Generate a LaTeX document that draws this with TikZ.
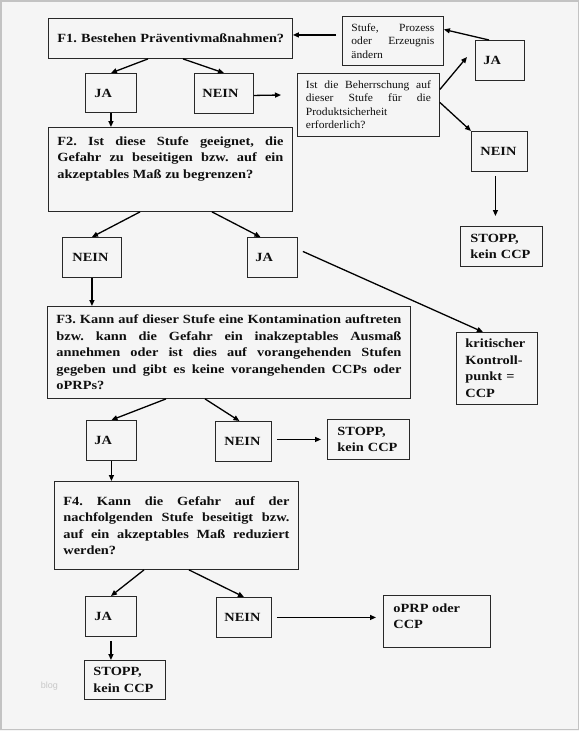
\documentclass[tikz,border=0pt]{standalone}
\usepackage{fontspec}
\setmainfont{Liberation Serif}[FakeStretch=1.15]
\newfontfamily\smallfam{Liberation Serif}[FakeStretch=1.05]
\newfontfamily\blogfam{Liberation Sans}
\usetikzlibrary{arrows.meta}
\definecolor{bgc}{RGB}{245,245,245}
\definecolor{framec}{RGB}{195,195,195}
\definecolor{linec}{RGB}{40,40,40}
\definecolor{txtc}{RGB}{15,15,15}
\definecolor{blogc}{RGB}{200,200,200}
\frenchspacing
\begin{document}
\begin{tikzpicture}[x=1pt,y=-1pt,
  box/.style={draw=linec, line width=0.9pt, anchor=north west, inner ysep=0pt, text=txtc},
  bigtxt/.style={font=\frenchspacing\fontsize{12.5}{16.5}\selectfont\bfseries},
  smalltxt/.style={font=\frenchspacing\smallfam\fontsize{11}{13.5}\selectfont},
  arr/.style={line width=1.3pt, draw=black, -{Triangle[length=6pt,width=5pt]}},
]
\useasboundingbox (0,0) rectangle (579,731);
\fill[bgc] (0,0) rectangle (579,731);
\draw[framec, line width=1.5pt] (0.75,0.75) rectangle (578.25,729.5);

% boxes
\node[box, bigtxt, minimum width=244pt, minimum height=40pt, text width=226pt, inner xsep=9pt, align=left] (f1) at (48,18) {\mbox{F1. Bestehen Präventivmaßnahmen?}};
\node[box, smalltxt, minimum width=101pt, minimum height=49pt, text width=83pt, inner xsep=9pt, align=justify] (change) at (342,16) {Stufe, Prozess\linebreak oder Erzeugnis\linebreak ändern};
\node[box, bigtxt, minimum width=51pt, minimum height=39pt, text width=33pt, inner xsep=9pt, align=left] (ja1) at (85,73) {JA};
\node[box, bigtxt, minimum width=59pt, minimum height=40pt, text width=43pt, inner xsep=8pt, align=left] (nein1) at (194,73) {NEIN};
\node[box, smalltxt, minimum width=142pt, minimum height=63pt, text width=125pt, inner xsep=8.5pt, align=justify] (q) at (297,73) {Ist die Beherrschung auf\linebreak dieser Stufe für die\linebreak Produktsicherheit\\ erforderlich?};
\node[box, bigtxt, minimum width=49pt, minimum height=40pt, text width=33pt, inner xsep=8pt, align=left] (jaR) at (475,40) {JA};
\node[box, bigtxt, minimum width=56pt, minimum height=40pt, text width=38pt, inner xsep=9pt, align=left] (neinR) at (471,131) {NEIN};
\node[box, bigtxt, minimum width=82pt, minimum height=40pt, text width=62pt, inner xsep=10pt, align=left] (stopR) at (460,226) {STOPP,\\ kein CCP};
\node[box, bigtxt, minimum width=244pt, minimum height=84pt, inner xsep=9pt, inner ysep=9pt] (f2) at (48,127) {\parbox[c][66pt][t]{226pt}{F2. Ist diese Stufe geeignet, die\linebreak Gefahr zu beseitigen bzw. auf ein\linebreak akzeptables Maß zu begrenzen?}};
\node[box, bigtxt, minimum width=59pt, minimum height=40pt, text width=39pt, inner xsep=10pt, align=left] (nein2) at (62,237) {NEIN};
\node[box, bigtxt, minimum width=50pt, minimum height=40pt, text width=34pt, inner xsep=8pt, align=left] (ja2) at (247,237) {JA};
\node[box, bigtxt, minimum width=363pt, minimum height=92pt, text width=345pt, inner xsep=9pt, align=justify] (f3) at (47,306) {F3. Kann auf dieser Stufe eine Kontamination auftreten\linebreak bzw. kann die Gefahr ein inakzeptables Ausmaß\linebreak annehmen oder ist dies auf vorangehenden Stufen\linebreak gegeben und gibt es keine vorangehenden CCPs oder\linebreak oPRPs?};
\node[box, bigtxt, minimum width=81pt, minimum height=72pt, text width=63pt, inner xsep=9pt, align=left] (krit) at (456,332) {kritischer\\ Kontroll-\\ punkt =\\ CCP};
\node[box, bigtxt, minimum width=50pt, minimum height=40pt, text width=34pt, inner xsep=8pt, align=left] (ja3) at (86,420) {JA};
\node[box, bigtxt, minimum width=56pt, minimum height=40pt, text width=38pt, inner xsep=9pt, align=left] (nein3) at (215,421) {NEIN};
\node[box, bigtxt, minimum width=82pt, minimum height=40pt, text width=62pt, inner xsep=10pt, align=left] (stop3) at (327,419) {STOPP,\\ kein CCP};
\node[box, bigtxt, minimum width=244pt, minimum height=88pt, text width=226pt, inner xsep=9pt, align=justify] (f4) at (54,481) {F4. Kann die Gefahr auf der\linebreak nachfolgenden Stufe beseitigt bzw.\linebreak auf ein akzeptables Maß reduziert\linebreak werden?};
\node[box, bigtxt, minimum width=51pt, minimum height=40pt, text width=33pt, inner xsep=9pt, align=left] (ja4) at (85,596) {JA};
\node[box, bigtxt, minimum width=55pt, minimum height=40pt, text width=39pt, inner xsep=8pt, align=left] (nein4) at (216,597) {NEIN};
\node[box, bigtxt, minimum width=107pt, minimum height=52pt, inner xsep=10pt, inner ysep=8pt] (oprp) at (383,595) {\parbox[c][36pt][t]{87pt}{oPRP oder\\ CCP}};
\node[box, bigtxt, minimum width=81pt, minimum height=39pt, text width=63pt, inner xsep=9pt, align=left] (stop4) at (84,660) {STOPP,\\ kein CCP};
\node[text=blogc, font=\blogfam\fontsize{9}{10}\selectfont] (blog) at (49.5,686) {blog};

% free ends
\coordinate (n1e) at (281,95);
\coordinate (qja) at (467,57);

% connectors
\draw[arr] ([xshift=-6pt,yshift=6pt]change.west) -- ([yshift=3.5pt]f1.east);
\draw[arr] ([xshift=14pt]jaR.north west) -- ([yshift=11.5pt]change.east);
\draw[arr] ([xshift=100pt]f1.south west) -- (ja1.north);
\draw[arr] ([xshift=135pt]f1.south west) -- (nein1.north);
\draw[arr] ([yshift=-2pt]nein1.east) -- (n1e);
\draw[arr] (ja1.south) -- (ja1.south |- f2.north);
\draw[arr] ([yshift=15.5pt]q.east) -- (qja);
\draw[arr] ([yshift=2.5pt]q.east) -- (neinR.north west);
\draw[arr] ([xshift=-4pt,yshift=-4pt]neinR.south) -- ([xshift=-6pt,yshift=10pt]stopR.north);
\draw[arr] ([xshift=92pt]f2.south west) -- (nein2.north);
\draw[arr] ([xshift=164pt]f2.south west) -- ([xshift=-12pt]ja2.north);
\draw[arr] (nein2.south) -- (nein2.south |- f3.north);
\draw[arr] ([xshift=5pt,yshift=6pt]ja2.east) -- ([xshift=-14pt]krit.north);
\draw[arr] ([xshift=119pt]f3.south west) -- (ja3.north);
\draw[arr] ([xshift=158pt]f3.south west) -- ([xshift=-4pt]nein3.north);
\draw[arr] ([xshift=5pt,yshift=2pt]nein3.east) -- ([xshift=-6pt]stop3.west);
\draw[arr] (ja3.south) -- (ja3.south |- f4.north);
\draw[arr] ([xshift=90pt]f4.south west) -- (ja4.north);
\draw[arr] ([xshift=135pt]f4.south west) -- (nein4.north);
\draw[arr] ([xshift=5pt]nein4.east) -- ([xshift=-7pt,yshift=4pt]oprp.west);
\draw[arr] ([yshift=-4pt]ja4.south) -- (ja4.south |- stop4.north);
\end{tikzpicture}
\end{document}
